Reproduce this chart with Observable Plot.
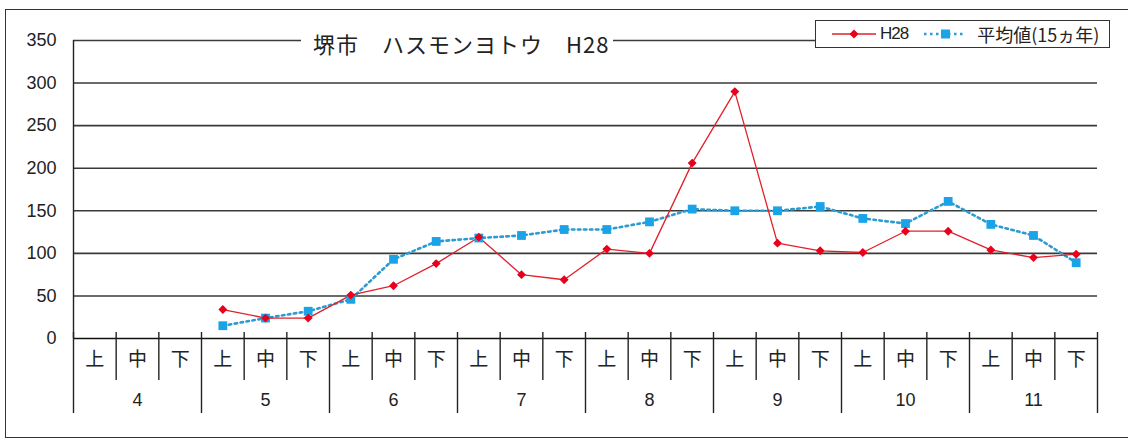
<!DOCTYPE html>
<html>
<head>
<meta charset="utf-8">
<script src="https://cdn.jsdelivr.net/npm/d3@7"></script>
<script src="https://cdn.jsdelivr.net/npm/@observablehq/plot@0.6"></script>
<style>
  html, body { margin: 0; padding: 0; background: white; }
  #wrap { position: relative; width: 1128px; height: 441px; overflow: hidden; font-family: "Liberation Sans", "Noto Sans CJK JP", sans-serif; }
  #frame { position: absolute; left: 5px; top: 9px; width: 1140px; height: 429px; border: 1.5px solid #333; box-sizing: border-box; pointer-events: none; }
  #title { position: absolute; left: 301px; top: 30px; padding: 0 4px 0 12px; background: white; font-size: 22px; line-height: 26px; letter-spacing: 1px; color: #222; font-family: "Noto Sans CJK JP", sans-serif; white-space: nowrap; }
  #legend { position: absolute; left: 815px; top: 20px; width: 295px; height: 28px; box-sizing: border-box; border: 1.5px solid #333; background: white; display: flex; align-items: center; padding-left: 16px; color: #222; white-space: nowrap; }
  #legend svg { display: block; }
  #legend span { display: inline-block; }
</style>
</head>
<body>
<div id="wrap"></div>
<script>
const months = ["4", "5", "6", "7", "8", "9", "10", "11"];
const thirds = ["上", "中", "下"];
const h28 = [null, null, null, 34, 24, 24, 51, 62, 88, 119, 75, 69, 105, 100, 206, 290, 112, 103, 101, 126, 126, 104, 95, 99];
const avg = [null, null, null, 15, 24, 32, 46, 93, 114, 118, 121, 128, 128, 137, 152, 150, 150, 155, 141, 135, 161, 134, 121, 89];
const yTicks = [0, 50, 100, 150, 200, 250, 300, 350];
const seriesNames = ["H28", "平均値(15ヵ年)"];
const titleText = "堺市　ハスモンヨトウ　H28";

const redLine = "#e0202a", redDot = "#e8001c";
const blueLine = "#2b9bd0", blueDot = "#1aa3e6";

const n = months.length * thirds.length;
const rows = d3.range(n).map(i => ({
  i, x: i + 0.5,
  month: months[Math.floor(i / 3)], third: thirds[i % 3],
  h28: h28[i], avg: avg[i]
}));
const boundaries = d3.range(0, n + 1);
const monthEdges = boundaries.filter(b => b % 3 === 0);
const minorEdges = boundaries.filter(b => b % 3 !== 0);
const thirdCenters = rows.map(r => r.x);
const monthCenters = months.map((m, k) => k * 3 + 1.5);

const chart = Plot.plot({
  width: 1128,
  height: 441,
  marginLeft: 73,
  marginRight: 31,
  marginTop: 40,
  marginBottom: 103,
  style: { fontFamily: "Liberation Sans, Noto Sans CJK JP, sans-serif", background: "transparent", color: "#222" },
  x: { type: "linear", domain: [0, n], axis: null, label: null },
  y: { domain: [0, 350], axis: null, label: null },
  marks: [
    Plot.ruleY(yTicks.filter(t => t > 0), { stroke: "#3a3a3a", strokeWidth: 1.6 }),
    Plot.ruleY([0], { stroke: "#111", strokeWidth: 1.6 }),
    Plot.ruleX([0], { stroke: "#222", strokeWidth: 1.4 }),
    Plot.axisY({ ticks: yTicks, tickSize: 0, tickPadding: 17, fontSize: 18, fill: "#222", label: null }),
    Plot.axisX({ ticks: minorEdges, tickSize: 48, dy: -6, tickFormat: () => "", stroke: "#222", strokeWidth: 1.4, label: null }),
    Plot.axisX({ ticks: monthEdges, tickSize: 81, dy: -6, tickFormat: () => "", stroke: "#222", strokeWidth: 1.4, label: null }),
    Plot.axisX({ ticks: thirdCenters, tickSize: 0, tickPadding: 14, tickFormat: v => thirds[Math.floor(v) % 3], fontSize: 19, fill: "#222", fontFamily: "Noto Sans CJK JP", label: null }),
    Plot.axisX({ ticks: monthCenters, tickSize: 0, tickPadding: 55, tickFormat: v => months[Math.floor(v / 3)], fontSize: 18, fill: "#222", label: null }),
    Plot.line(rows, { x: "x", y: "avg", stroke: blueLine, strokeWidth: 2.6, strokeDasharray: "2.5 3.5" }),
    Plot.line(rows, { x: "x", y: "h28", stroke: redLine, strokeWidth: 1.3 }),
    Plot.dot(rows.filter(r => r.avg != null), { x: "x", y: "avg", symbol: "square2", r: 5.6, fill: blueDot, stroke: "none" }),
    Plot.dot(rows.filter(r => r.h28 != null), { x: "x", y: "h28", symbol: "diamond2", r: 4, fill: redDot, stroke: "none" })
  ]
});

const wrap = document.getElementById("wrap");
wrap.appendChild(chart);
chart.style.position = "absolute";
chart.style.left = "0px";
chart.style.top = "0px";

const frame = document.createElement("div");
frame.id = "frame";
wrap.appendChild(frame);

const title = document.createElement("div");
title.id = "title";
title.textContent = titleText;
wrap.appendChild(title);

const legend = document.createElement("div");
legend.id = "legend";
legend.innerHTML =
  `<svg width="46" height="14"><line x1="0" y1="7" x2="44" y2="7" stroke="${redLine}" stroke-width="1.3"/><path d="M22,2.5 L26.5,7 L22,11.5 L17.5,7 Z" fill="${redDot}"/></svg>` +
  `<span style="margin-left:2px;font-size:17px;letter-spacing:-1px">${seriesNames[0]}</span>` +
  `<svg width="44" height="14" style="margin-left:16px"><line x1="0" y1="7" x2="42" y2="7" stroke="${blueLine}" stroke-width="2.6" stroke-dasharray="2.5 3.5"/><rect x="17" y="2.5" width="9" height="9" fill="${blueDot}"/></svg>` +
  `<span style="margin-left:9px;font-size:18px;font-family:'Noto Sans CJK JP', sans-serif">${seriesNames[1]}</span>`;
wrap.appendChild(legend);
</script>
</body>
</html>
